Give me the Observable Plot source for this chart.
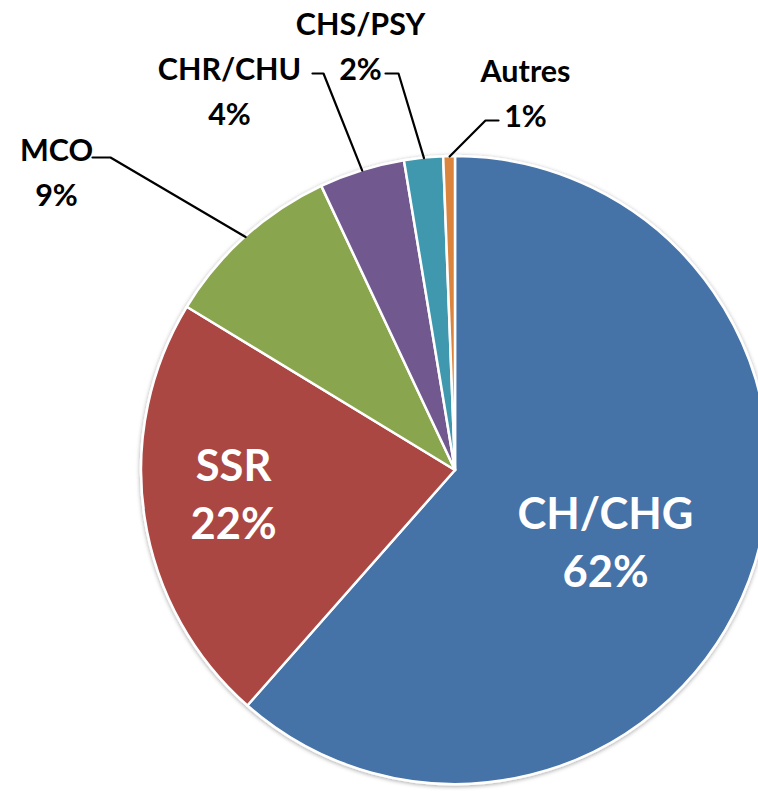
<!DOCTYPE html>
<html><head><meta charset="utf-8">
<script src="https://cdn.jsdelivr.net/npm/d3@7"></script>
<script src="https://cdn.jsdelivr.net/npm/@observablehq/plot@0.6"></script>
<style>html,body{margin:0;padding:0;background:#fff}#chart svg{display:block}</style>
</head><body><div id="chart"></div>
<script>
// ---- data ----
const categories = ["CH/CHG", "SSR", "MCO", "CHR/CHU", "CHS/PSY", "Autres"];
const shares = [61.5, 22.2, 9.3, 4.4, 2.0, 0.6];
const colors = ["#4572A7", "#AA4643", "#89A54E", "#71588F", "#4198AF", "#DB843D"];
const insideCategories = ["CH/CHG", "SSR"];

// ---- layout (pixels) ----
const W = 758, H = 793, CX = 455, CY = 470, R = 314;
const labelPos = {
  "CH/CHG": [605, 539], "SSR": [233, 491],
  "MCO": [56, 169], "CHR/CHU": [229, 88], "CHS/PSY": [360, 43], "Autres": [525, 90]
};
const leaderStart = {
  "MCO": [[92, 157], [110, 157]],
  "CHR/CHU": [[312, 73], [323, 73]],
  "CHS/PSY": [[385, 73], [398, 73]],
  "Autres": [[498, 120], [485, 120]]
};

const data = categories.map((name, i) => ({name, value: shares[i], color: colors[i]}));
const arcs = d3.pie().sort(null).value(d => d.value)(data);
const mid = a => (a.startAngle + a.endAngle) / 2;

const labels = arcs.map(a => ({
  name: a.data.name,
  text: `${a.data.name}\n${Math.round(a.data.value)}%`,
  x: labelPos[a.data.name][0], y: labelPos[a.data.name][1],
  inside: insideCategories.includes(a.data.name)
}));

const leaders = arcs.filter(a => leaderStart[a.data.name]).flatMap(a => {
  const m = mid(a);
  const pts = leaderStart[a.data.name].map(([x, y]) => ({name: a.data.name, x, y}));
  pts.push({name: a.data.name, x: CX + R * Math.sin(m), y: CY - R * Math.cos(m)});
  return pts;
});

function pieMark(index, scales) {
  const root = d3.create("svg:g");
  const f = root.append("defs").append("filter").attr("id", "pieShadow")
    .attr("x", "-10%").attr("y", "-10%").attr("width", "120%").attr("height", "120%");
  f.append("feDropShadow").attr("dx", 0).attr("dy", 1).attr("stdDeviation", 2.2)
    .attr("flood-color", "#000").attr("flood-opacity", 0.35);
  const cx = scales.x(CX), cy = scales.y(CY);
  const r = Math.abs(scales.x(CX + R) - scales.x(CX));
  const g = root.append("g").attr("transform", `translate(${cx},${cy})`).attr("filter", "url(#pieShadow)");
  const arc = d3.arc().innerRadius(0).outerRadius(r);
  g.selectAll("path").data(arcs).join("path")
    .attr("d", arc).attr("fill", d => d.data.color)
    .attr("stroke", "#fff").attr("stroke-width", 2.5).attr("stroke-linejoin", "round");
  return root.node();
}

const chart = Plot.plot({
  width: W, height: H, margin: 0,
  x: {domain: [0, W], range: [0, W], axis: null},
  y: {domain: [0, H], range: [0, H], axis: null},
  marks: [
    pieMark,
    Plot.line(leaders, {x: "x", y: "y", z: "name", stroke: "#000", strokeWidth: 2.2, curve: "linear"}),
    Plot.text(labels.filter(d => d.inside), {
      x: "x", y: "y", text: "text", fill: "#fff", fontSize: 43.5, fontWeight: "bold",
      fontFamily: "Lato", lineHeight: 1.33, lineAnchor: "middle", textAnchor: "middle"
    }),
    Plot.text(labels.filter(d => !d.inside), {
      x: "x", y: "y", text: "text", fill: "#000", fontSize: 30.5, fontWeight: "bold",
      fontFamily: "Lato", lineHeight: 1.475, lineAnchor: "middle", textAnchor: "middle"
    })
  ]
});
document.getElementById("chart").append(chart);
</script>
</body></html>
